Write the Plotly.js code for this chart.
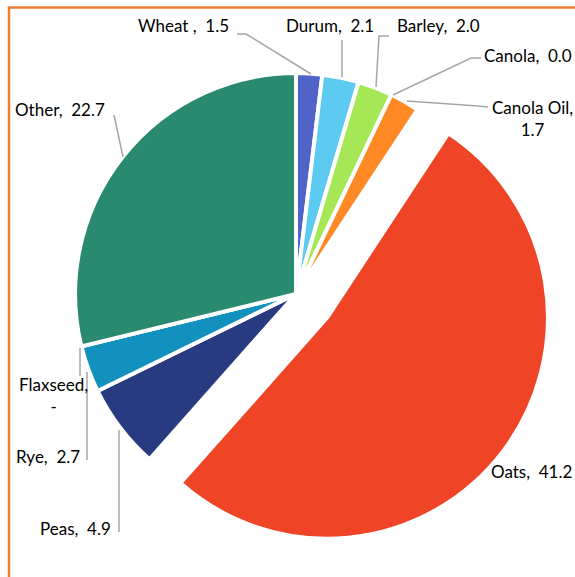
<!DOCTYPE html>
<html><head><meta charset="utf-8">
<script src="https://cdn.plot.ly/plotly-3.0.1.min.js"></script>
<style>html,body{margin:0;padding:0;background:#fff}#chart{width:575px;height:577px}</style>
</head><body><div id="chart"></div>
<script>
// ---- data ----
const categories = ['Wheat ', 'Durum', 'Barley', 'Canola', 'Canola Oil', 'Oats', 'Peas', 'Rye', 'Flaxseed', 'Other'];
const values = [1.5, 2.1, 2.0, 0.0, 1.7, 41.2, 4.9, 2.7, 0.0, 22.7];
const valueLabels = ['1.5', '2.1', '2.0', '0.0', '1.7', '41.2', '4.9', '2.7', '-', '22.7'];

// ---- styling ----
const sliceColors = ['#4f63c9', '#5ccaf1', '#a6e756', '#e8e84a', '#ff8a25', '#f04426', '#283b81', '#1391be', '#7f7f7f', '#2a8a70'];
const W = 575, H = 577;
const px = x => x / W, py = y => 1 - y / H;

// label placement (pixel positions) and line breaks
const labelPos = {
  'Wheat ':     {x: 231, y: 26, anchor: 'right', br: false},
  'Durum':      {x: 376, y: 26, anchor: 'right', br: false},
  'Barley':     {x: 395, y: 26, anchor: 'left', br: false},
  'Canola':     {x: 574, y: 56, anchor: 'right', br: false},
  'Canola Oil': {x: 532, y: 118, anchor: 'center', br: true},
  'Oats':       {x: 574, y: 471, anchor: 'right', br: false},
  'Peas':       {x: 113, y: 528, anchor: 'right', br: false},
  'Rye':        {x: 82, y: 456, anchor: 'right', br: false},
  'Flaxseed':   {x: 53, y: 395, anchor: 'center', br: true},
  'Other':      {x: 107, y: 110, anchor: 'right', br: false}
};
// leader lines (pixel paths)
const leaders = [
  [[237,34],[246,34],[311,74]],
  [[342,40],[342,77]],
  [[389,36],[379,36],[376,87]],
  [[481,58],[471,58],[393,95]],
  [[488,107],[478,106],[407,101]],
  [[114,115],[123,157]],
  [[80,348],[80,376]],
  [[87,372],[87,460]],
  [[119,430],[119,532]]
];

const cx = 296, cy = 294, halfSide = 260;
const trace = {
  type: 'pie',
  labels: categories,
  values: values,
  sort: false,
  direction: 'clockwise',
  rotation: 0,
  pull: categories.map(c => c === 'Oats' ? 0.177 : 0),
  marker: {colors: sliceColors, line: {color: '#ffffff', width: 4}},
  textinfo: 'none',
  hoverinfo: 'label+value',
  domain: {x: [px(cx - halfSide), px(cx + halfSide)], y: [py(cy + halfSide), py(cy - halfSide)]},
  showlegend: false
};

const annotations = categories.map((c, i) => {
  const p = labelPos[c];
  return {
    xref: 'paper', yref: 'paper', x: px(p.x), y: py(p.y),
    xanchor: p.anchor, yanchor: 'middle', showarrow: false,
    align: 'center',
    text: c + ',' + (p.br ? '<br>' : '&nbsp; ') + valueLabels[i],
    font: {family: 'Lato, "Liberation Sans", sans-serif', size: 17, color: '#000000'}
  };
});

const shapes = leaders.map(pts => ({
  type: 'path', xref: 'paper', yref: 'paper',
  path: pts.map((p, k) => (k ? 'L' : 'M') + px(p[0]) + ',' + py(p[1])).join(' '),
  line: {color: '#a6a6a6', width: 1.5}
}));
shapes.push({type: 'rect', xref: 'paper', yref: 'paper', x0: px(9), y0: py(610), x1: px(620), y1: py(7.5),
  line: {color: '#ed7d31', width: 2.5}, fillcolor: 'rgba(0,0,0,0)', layer: 'below'});

Plotly.newPlot('chart', [trace], {
  width: W, height: H,
  margin: {l: 0, r: 0, t: 0, b: 0},
  paper_bgcolor: '#ffffff',
  annotations: annotations,
  shapes: shapes
}, {displayModeBar: false, staticPlot: true});
</script></body></html>
